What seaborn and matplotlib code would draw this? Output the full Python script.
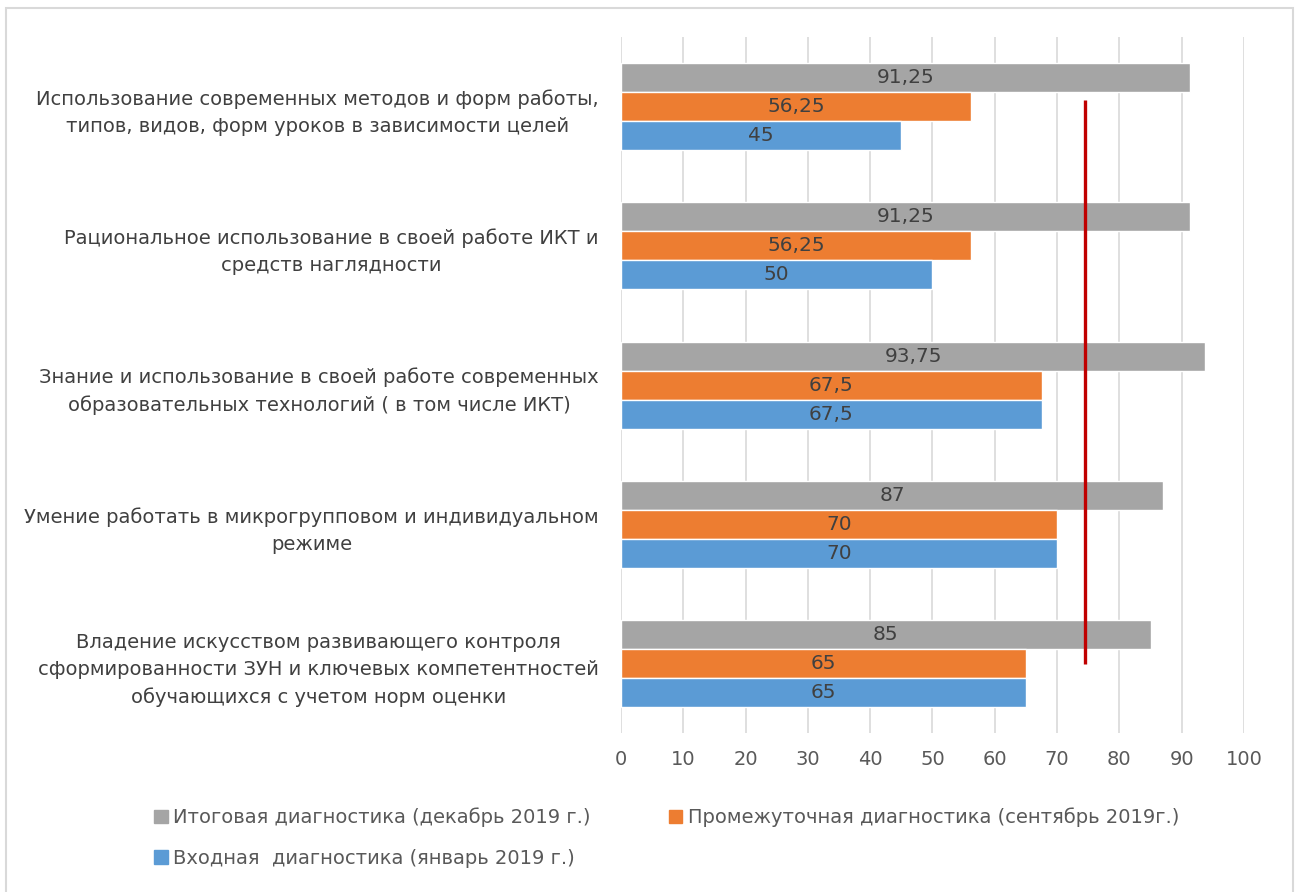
import matplotlib

matplotlib.use("Agg")
import matplotlib.pyplot as plt
import pandas
import seaborn as sns
from matplotlib.patches import Rectangle

# Categories (top to bottom)
categories: list[str] = [
    "Использование современных методов и форм работы,\nтипов, видов, форм уроков в зависимости целей",
    "Рациональное использование в своей работе ИКТ и\nсредств наглядности",
    "Знание и использование в своей работе современных\nобразовательных технологий ( в том числе ИКТ)",
    "Умение работать в микрогрупповом и индивидуальном\nрежиме",
    "Владение искусством развивающего контроля\nсформированности ЗУН и ключевых компетентностей\nобучающихся с учетом норм оценки",
]

series_names: list[str] = [
    "Итоговая диагностика (декабрь 2019 г.)",
    "Промежуточная диагностика (сентябрь 2019г.)",
    "Входная  диагностика (январь 2019 г.)",
]
final_values: list[float] = [91.25, 91.25, 93.75, 87, 85]
interim_values: list[float] = [56.25, 56.25, 67.5, 70, 65]
entry_values: list[float] = [45, 50, 67.5, 70, 65]

colors: list[str] = ["#A5A5A5", "#ED7D31", "#5B9BD5"]

# Threshold line
threshold_value: float = 74.5
threshold_span: tuple[float, float] = (-0.05, 4.0)

x_ticks: list[int] = list(range(0, 101, 10))

# Build long-form table
rows: list[dict] = []
for name, values in zip(series_names, [final_values, interim_values, entry_values]):
    for cat, v in zip(categories, values):
        rows.append({"category": cat, "series": name, "value": v})
df = pandas.DataFrame(rows)

sns.set_theme(style="white")
plt.rcParams["font.family"] = ["DejaVu Sans"]

fig = plt.figure(figsize=(12.99, 8.92), dpi=100)
ax = fig.add_axes([0.478, 0.178, 0.4797, 0.7805])

sns.barplot(
    data=df,
    x="value",
    y="category",
    hue="series",
    hue_order=series_names,
    order=categories,
    palette=colors,
    orient="h",
    width=0.625,
    gap=0,
    ax=ax,
    legend=False,
    saturation=1,
)

# Labels inside bars with comma decimals
for container in ax.containers:
    labels = [
        (f"{bar.get_width():g}").replace(".", ",") for bar in container
    ]
    ax.bar_label(
        container,
        labels=labels,
        label_type="center",
        fontsize=14.5,
        color="#404040",
    )

# Red threshold line
ax.vlines(
    threshold_value,
    threshold_span[0],
    threshold_span[1],
    color="#C00000",
    linewidth=2.4,
    zorder=5,
)

ax.set_xlim(0, 100)
ax.set_ylim(len(categories) - 0.5, -0.5)
ax.set_xticks(x_ticks)
ax.set_xlabel("")
ax.set_ylabel("")
ax.grid(axis="x", color="#D9D9D9", linewidth=1.2)
ax.set_axisbelow(True)
for spine in ax.spines.values():
    spine.set_visible(False)

ax.tick_params(axis="x", length=0, pad=12, labelsize=14, labelcolor="#595959")
ax.tick_params(axis="y", length=0, pad=16)
ax.set_yticks(range(len(categories)))
ax.set_yticklabels(
    categories,
    fontsize=14,
    color="#404040",
    multialignment="center",
    linespacing=1.55,
)

# Legend (row-wise ordering: gray, orange / blue)
handles = [Rectangle((0, 0), 1, 1, color=c) for c in colors]
order = [0, 2, 1]
fig.legend(
    [handles[i] for i in order],
    [series_names[i] for i in order],
    ncol=2,
    loc="upper left",
    bbox_to_anchor=(0.105, 0.114),
    frameon=False,
    handlelength=0.7,
    handleheight=0.7,
    handletextpad=0.3,
    columnspacing=4.0,
    labelspacing=1.1,
    prop={"size": 14},
    labelcolor="#595959",
)

# Outer border
fig.patches.append(
    Rectangle(
        (6 / 1299, -0.02),
        1 - 12 / 1299,
        1 - 8 / 892 + 0.02,
        transform=fig.transFigure,
        fill=False,
        edgecolor="#D9D9D9",
        linewidth=1.5,
    )
)

fig.savefig("out.png", dpi=100)
